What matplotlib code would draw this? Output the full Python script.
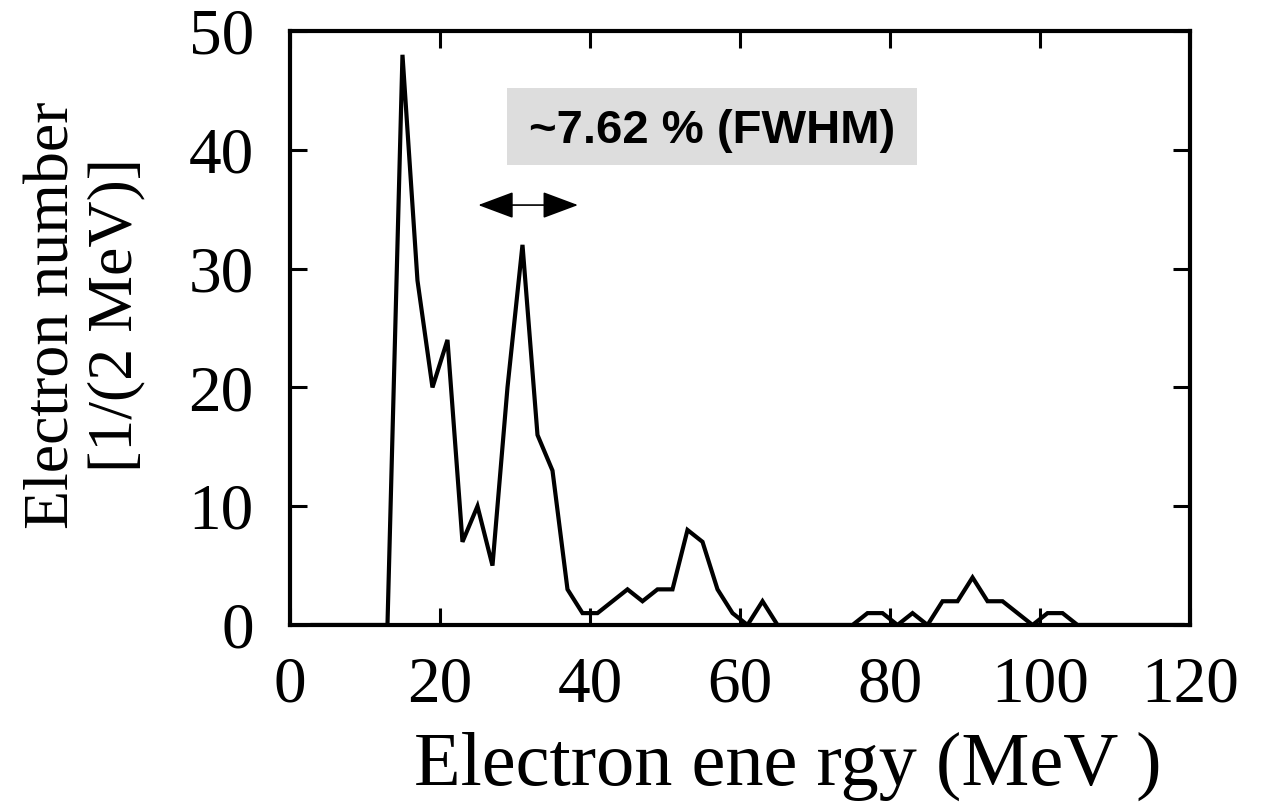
import matplotlib.pyplot as plt
from matplotlib.patches import Rectangle

# electron spectrum, 2 MeV bins (bin centres)
energy = [3, 5, 7, 9, 11, 13, 15, 17, 19, 21, 23, 25, 27, 29, 31, 33, 35, 37, 39, 41,
          43, 45, 47, 49, 51, 53, 55, 57, 59, 61, 63, 65, 67, 69, 71, 73, 75, 77, 79, 81,
          83, 85, 87, 89, 91, 93, 95, 97, 99, 101, 103, 105, 107, 109, 111, 113, 115, 117, 119]
counts = [0, 0, 0, 0, 0, 0, 48, 29, 20, 24, 7, 10, 5, 20, 32, 16, 13, 3, 1, 1,
          2, 3, 2, 3, 3, 8, 7, 3, 1, 0, 2, 0, 0, 0, 0, 0, 0, 1, 1, 0,
          1, 0, 2, 2, 4, 2, 2, 1, 0, 1, 1, 0, 0, 0, 0, 0, 0, 0, 0]

x_ticks = [0, 20, 40, 60, 80, 100, 120]
y_ticks = [0, 10, 20, 30, 40, 50]

# FWHM marker (MeV, counts)
fwhm_lo, fwhm_hi, fwhm_y = 25.1, 38.4, 35.35

SERIF = ['Liberation Serif', 'DejaVu Serif']
SANS = ['Liberation Sans', 'DejaVu Sans']

fig = plt.figure(figsize=(12.64, 8.02), dpi=100)
ax = fig.add_axes([0.2294, 0.2207, 0.7121, 0.7406])

ax.plot(energy, counts, color='black', lw=3.0, solid_joinstyle='miter')

ax.set_xlim(0, 120)
ax.set_ylim(0, 50)
ax.set_xticks(x_ticks)
ax.set_yticks(y_ticks)
ax.tick_params(direction='in', length=12, width=2.2, top=True, right=True)
ax.tick_params(axis='y', pad=26)
ax.tick_params(axis='x', pad=22)
for lab in ax.get_xticklabels() + ax.get_yticklabels():
    lab.set_family(SERIF)
    lab.set_fontsize(47)
for s in ax.spines.values():
    s.set_linewidth(3)

ax.set_xlabel('Electron ene rgy (MeV )', family=SERIF, fontsize=55)
ax.xaxis.label.set_va('baseline')
ax.xaxis.set_label_coords(0.553, -0.2694)

ax.set_ylabel('Electron number\n[1/(2 MeV)]', family=SERIF, fontsize=46,
              linespacing=1.1)
ax.yaxis.label.set_va('center')
ax.yaxis.set_label_coords(-0.2278, 0.522)

# FWHM label in a grey box
ax.add_patch(Rectangle((0.2411, 0.7744), 0.4556, 0.1296, transform=ax.transAxes,
                       facecolor='#dddddd', edgecolor='none', zorder=1))
ax.text(0.4689, 0.8114, '~7.62 % (FWHM)', transform=ax.transAxes, ha='center',
        va='baseline', family=SANS, fontweight='bold', fontsize=34, zorder=2)

ax.annotate('', xy=(fwhm_hi, fwhm_y), xytext=(fwhm_lo, fwhm_y),
            arrowprops=dict(arrowstyle='<|-|>,head_length=0.75,head_width=0.28',
                            color='black', lw=1.2, mutation_scale=30,
                            shrinkA=0, shrinkB=0))

fig.savefig('out.png', dpi=100)
